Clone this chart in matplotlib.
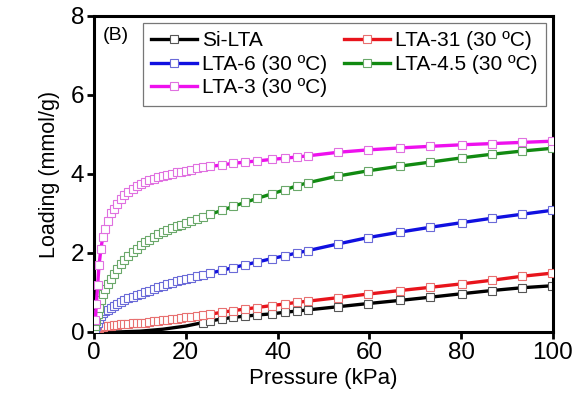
import matplotlib
matplotlib.use("Agg")
import matplotlib.pyplot as plt

plt.rcParams['font.family'] = ['Liberation Sans', 'DejaVu Sans']

# Pressure points (kPa)
pressure = [0.3, 0.5, 0.8, 1.1, 1.5, 1.9, 2.4, 3.0, 3.6, 4.3, 5.0, 5.8, 6.6, 7.5,
            8.4, 9.3, 10.2, 11.1, 12.0, 13.0, 14.0, 15.0, 16.0, 17.0, 18.0, 19.0,
            20.0, 21.2, 22.5, 23.8, 25.3, 27.9, 30.3, 32.9, 35.5, 38.8, 41.6, 44.2,
            46.6, 53.2, 59.7, 66.7, 73.2, 80.2, 86.7, 93.2, 99.8]

lta3 = [0.30, 0.70, 1.20, 1.70, 2.10, 2.40, 2.60, 2.80, 3.00, 3.12, 3.25, 3.36, 3.46, 3.55,
        3.62, 3.69, 3.75, 3.80, 3.84, 3.88, 3.92, 3.95, 3.98, 4.01, 4.04, 4.06,
        4.08, 4.11, 4.14, 4.17, 4.19, 4.23, 4.27, 4.30, 4.33, 4.37, 4.40, 4.43,
        4.46, 4.55, 4.61, 4.66, 4.70, 4.74, 4.77, 4.80, 4.83]

lta45 = [0.15, 0.28, 0.45, 0.62, 0.80, 0.95, 1.08, 1.22, 1.35, 1.48, 1.60, 1.71, 1.82, 1.93,
         2.02, 2.11, 2.19, 2.27, 2.34, 2.40, 2.47, 2.53, 2.58, 2.63, 2.68, 2.72,
         2.77, 2.82, 2.87, 2.92, 2.98, 3.08, 3.18, 3.28, 3.38, 3.50, 3.60, 3.70,
         3.78, 3.95, 4.08, 4.20, 4.30, 4.41, 4.50, 4.58, 4.65]

lta6 = [0.08, 0.14, 0.22, 0.32, 0.40, 0.47, 0.52, 0.56, 0.60, 0.65, 0.70, 0.75, 0.80, 0.85,
        0.89, 0.93, 0.97, 1.01, 1.05, 1.09, 1.13, 1.17, 1.21, 1.25, 1.28, 1.31,
        1.34, 1.37, 1.41, 1.45, 1.49, 1.56, 1.63, 1.70, 1.77, 1.86, 1.93, 2.00,
        2.06, 2.23, 2.39, 2.53, 2.65, 2.77, 2.88, 2.98, 3.08]

lta31 = [0.03, 0.05, 0.07, 0.10, 0.12, 0.13, 0.14, 0.15, 0.16, 0.17, 0.18, 0.19, 0.20, 0.21,
         0.22, 0.22, 0.23, 0.24, 0.25, 0.27, 0.28, 0.30, 0.31, 0.33, 0.34, 0.36,
         0.37, 0.39, 0.41, 0.43, 0.45, 0.50, 0.54, 0.58, 0.62, 0.67, 0.71, 0.75,
         0.78, 0.87, 0.96, 1.05, 1.13, 1.22, 1.31, 1.41, 1.49]

pressure_si = [0.3, 5.0, 10.0, 15.0, 20.0, 23.8, 25.3, 27.9, 30.3, 32.9, 35.5, 38.8, 41.6,
               44.2, 46.6, 53.2, 59.7, 66.7, 73.2, 80.2, 86.7, 93.2, 99.8]
si_lta = [0.0, 0.0, 0.02, 0.07, 0.15, 0.24, 0.28, 0.33, 0.37, 0.40, 0.43, 0.46, 0.50,
          0.53, 0.56, 0.64, 0.72, 0.80, 0.88, 0.97, 1.05, 1.12, 1.17]

fig = plt.figure(figsize=(5.75, 4.07), dpi=100)
ax = fig.add_axes([0.1635, 0.1843, 0.7982, 0.7764])

mk = dict(marker='s', markersize=5.5, markerfacecolor='white', markeredgewidth=0.8)
h_si, = ax.plot(pressure_si, si_lta, color='black', lw=2.4, markeredgecolor='#555555',
                markevery=list(range(5, len(pressure_si))), label='Si-LTA', zorder=2, **mk)
h_31, = ax.plot(pressure, lta31, color='#e8141c', lw=2.4, markeredgecolor='#e87070',
                label='LTA-31 (30 ºC)', zorder=3, **mk)
h_6, = ax.plot(pressure, lta6, color='#1010e0', lw=2.4, markeredgecolor='#6a6ad8',
               label='LTA-6 (30 ºC)', zorder=3, **mk)
h_45, = ax.plot(pressure, lta45, color='#118a11', lw=2.4, markeredgecolor='#6aa86a',
                label='LTA-4.5 (30 ºC)', zorder=3, **mk)
h_3, = ax.plot(pressure, lta3, color='#ee10ee', lw=2.4, markeredgecolor='#e070e0',
               label='LTA-3 (30 ºC)', zorder=3, **mk)

ax.set_xlim(0, 100)
ax.set_ylim(0, 8)
ax.set_xticks([0, 20, 40, 60, 80, 100])
ax.set_yticks([0, 2, 4, 6, 8])
ax.tick_params(axis='both', direction='out', length=5, width=2, labelsize=17.5, pad=2)
for s in ax.spines.values():
    s.set_linewidth(2.2)

ax.set_xlabel('Pressure (kPa)', fontsize=16, labelpad=3)
ax.set_ylabel('Loading (mmol/g)', fontsize=15.5, labelpad=8)

ax.text(0.02, 0.965, '(B)', transform=ax.transAxes, fontsize=14, va='top', ha='left')

hs = [h_si, h_6, h_3, h_31, h_45]
leg = ax.legend(hs, [h.get_label() for h in hs],
                ncol=2, loc='upper right', bbox_to_anchor=(0.985, 0.978),
                fontsize=15, frameon=True, fancybox=False, edgecolor='#555555',
                handlelength=2.2, handletextpad=0.25, columnspacing=0.8,
                borderpad=0.4, labelspacing=0.22, numpoints=1, borderaxespad=0.0)
leg.get_frame().set_linewidth(0.9)

fig.savefig('out.png', dpi=100)
